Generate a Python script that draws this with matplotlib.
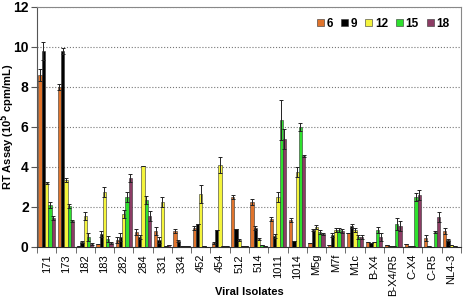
import matplotlib.pyplot as plt
import numpy as np

plt.rcParams['font.family'] = ['Liberation Sans', 'DejaVu Sans']

isolates = ['171', '173', '182', '183', '282', '284', '331', '334', '452', '454',
            '512', '514', '1011', '1014', 'M5g', 'M7f', 'M1c', 'B-X4', 'B-X4/R5',
            'C-X4', 'C-R5', 'NL4-3']
days = ['6', '9', '12', '15', '18']
colors = ['#e0742c', '#000000', '#f4f43c', '#2ee02e', '#8c3c64']

d6 = [8.6, 8.0, 0.05, 0.15, 0.35, 0.75, 0.8, 0.8, 0.95, 0.2, 2.5, 2.25, 1.4, 1.35, 0.2, 0.1, 0.7, 0.25, 0.1, 0.15, 0.45, 0.8]
d9 = [9.8, 9.8, 0.25, 0.65, 0.5, 0.5, 0.35, 0.3, 1.15, 0.85, 0.9, 0.95, 0.55, 0.3, 0.85, 0.6, 1.05, 0.2, 0.05, 0.05, 0.05, 0.35]
d12 = [3.2, 3.35, 1.55, 2.75, 1.65, 4.05, 2.25, 0.05, 2.65, 4.1, 0.35, 0.4, 2.5, 3.75, 1.0, 0.85, 0.85, 0.25, 0.03, 0.05, 0.02, 0.1]
d15 = [2.1, 2.05, 0.5, 0.4, 2.5, 2.35, 0.05, 0.05, 0.05, 0.05, 0.05, 0.1, 6.35, 6.0, 0.75, 0.85, 0.5, 0.85, 1.15, 2.5, 0.75, 0.05]
d18 = [1.45, 1.3, 0.15, 0.2, 3.45, 1.55, 0.1, 0.03, 0.02, 0.03, 0.05, 0.05, 5.4, 4.55, 0.65, 0.8, 0.5, 0.5, 1.05, 2.6, 1.5, 0.02]

e6 = [0.3, 0.15, 0.0, 0.0, 0.15, 0.15, 0.2, 0.1, 0.1, 0.05, 0.1, 0.15, 0.1, 0.1, 0.0, 0.0, 0.0, 0.0, 0.0, 0.0, 0.15, 0.15]
e9 = [0.45, 0.15, 0.05, 0.15, 0.2, 0.1, 0.15, 0.05, 0.0, 0.0, 0.0, 0.1, 0.1, 0.0, 0.05, 0.1, 0.1, 0.0, 0.0, 0.0, 0.0, 0.05]
e12 = [0.05, 0.1, 0.2, 0.25, 0.2, 0.0, 0.25, 0.0, 0.45, 0.4, 0.05, 0.05, 0.25, 0.25, 0.1, 0.1, 0.1, 0.0, 0.0, 0.0, 0.0, 0.0]
e15 = [0.15, 0.1, 0.2, 0.15, 0.25, 0.2, 0.0, 0.0, 0.0, 0.0, 0.0, 0.0, 1.0, 0.2, 0.1, 0.1, 0.1, 0.15, 0.3, 0.2, 0.05, 0.0]
e18 = [0.1, 0.05, 0.05, 0.05, 0.2, 0.25, 0.0, 0.0, 0.0, 0.0, 0.0, 0.0, 0.5, 0.05, 0.05, 0.1, 0.1, 0.2, 0.25, 0.25, 0.25, 0.0]

values = [d6, d9, d12, d15, d18]
errors = [e6, e9, e12, e15, e18]

fig = plt.figure(figsize=(4.64, 3.01), dpi=100)
ax = fig.add_axes([37 / 464, 1 - 247 / 301, 424 / 464, 240 / 301])

x = np.arange(len(isolates))
w = 0.17
for i, (day, vals, errs) in enumerate(zip(days, values, errors)):
    pos = x + (i - 2) * w
    ax.bar(pos, vals, w, color=colors[i], edgecolor='#333333', linewidth=0.4,
           label=day, zorder=3)
    ax.errorbar(pos, vals, yerr=errs, fmt='none', ecolor='#222222',
                elinewidth=0.7, capsize=1.5, capthick=0.7, zorder=4)

ax.set_xlim(-0.5, len(isolates) - 0.5)
ax.set_ylim(0, 12)
ax.set_yticks(range(0, 13, 2))
ax.set_yticklabels([str(v) for v in range(0, 13, 2)], fontsize=10, fontweight='bold')
ax.yaxis.grid(True, linestyle=':', color='#777777', linewidth=0.8, zorder=0)

ax.set_xticks(x)
ax.set_xticklabels(isolates, rotation=90, fontsize=8)
ax.set_xticks(np.arange(-0.5, len(isolates)), minor=True)
ax.tick_params(axis='x', which='major', length=0, pad=5)
ax.tick_params(axis='x', which='minor', length=4, color='#555555')
ax.tick_params(axis='y', length=4, color='#555555', pad=2)

for s in ['top', 'right']:
    ax.spines[s].set_color('#888888')
ax.spines['left'].set_color('#555555')
ax.spines['bottom'].set_color('#333333')

ax.set_xlabel('Viral Isolates', fontsize=8, fontweight='bold')
ax.xaxis.set_label_coords(0.5, -0.165)
ax.set_ylabel('RT Assay (10$^{\\mathbf{5}}$ cpm/mL)', fontsize=8, fontweight='bold')
ax.yaxis.set_label_coords(-0.047, 0.5)

ax.legend(loc='upper right', ncol=5, frameon=False,
          prop={'weight': 'bold', 'size': 8.5}, handlelength=0.55, handleheight=0.55,
          handletextpad=0.25, columnspacing=0.7, borderaxespad=0.2,
          bbox_to_anchor=(0.99, 0.985))

fig.savefig('out.png', dpi=100)
